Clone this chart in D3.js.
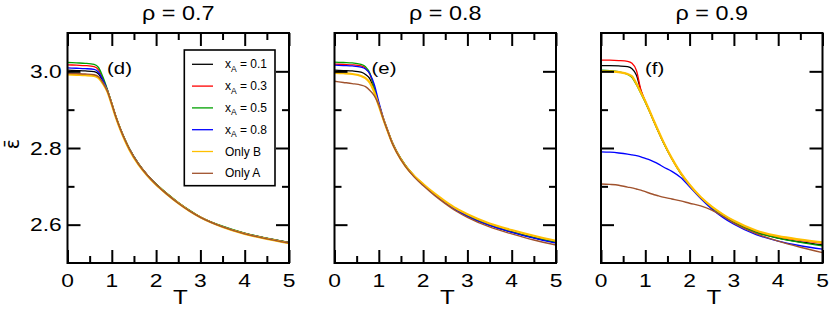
<!DOCTYPE html>
<html><head><meta charset="utf-8">
<script src="https://cdn.jsdelivr.net/npm/d3@7"></script>
<style>
body{margin:0;background:#fff}
svg{display:block}
text{font-family:"Liberation Sans",Arial,Helvetica,sans-serif;fill:#000}
</style>
</head><body>
<svg id="c" width="830" height="309"></svg>
<script>
// ---------------- DATA ----------------
const T = [0,0.2,0.4,0.6,0.7,0.8,0.9,1.0,1.1,1.2,1.3,1.4,1.6,1.8,2.0,2.25,2.5,2.75,3.0,3.5,4.0,4.5,5.0];

const panelTitles = ["ρ = 0.7","ρ = 0.8","ρ = 0.9"];
const panelTags = ["(d)","(e)","(f)"];
const seriesKeys = ["x01","x03","x05","x08","onlyB","onlyA"];
const seriesLabels = ["0.1","0.3","0.5","0.8","Only B","Only A"];
const xTicks = [0,1,2,3,4,5];
const xMinor = [0.5,1.5,2.5,3.5,4.5];
const yTicks = [2.6,2.8,3.0];
const yMinor = [2.7,2.9];

// rho = 0.7  (panel d)
const d_x01   = [3.003,3.002,3.001,2.999,2.993,2.974,2.950,2.915,2.879,2.848,2.821,2.797,2.759,2.730,2.706,2.680,2.657,2.637,2.620,2.595,2.577,2.564,2.554];
const d_x03   = [3.017,3.016,3.015,3.012,3.004,2.980,2.951,2.916,2.879,2.848,2.821,2.797,2.759,2.730,2.705,2.680,2.657,2.637,2.620,2.595,2.577,2.564,2.553];
const d_x05   = [3.023,3.022,3.021,3.018,3.010,2.985,2.953,2.917,2.880,2.849,2.822,2.798,2.760,2.730,2.706,2.681,2.658,2.638,2.620,2.596,2.578,2.565,2.554];
const d_x08   = [3.009,3.008,3.007,3.005,2.998,2.977,2.951,2.916,2.879,2.848,2.821,2.797,2.759,2.729,2.705,2.680,2.657,2.637,2.619,2.595,2.577,2.564,2.553];
const d_onlyB = [2.992,2.991,2.990,2.988,2.983,2.968,2.947,2.913,2.877,2.846,2.819,2.795,2.757,2.728,2.704,2.679,2.656,2.636,2.619,2.594,2.576,2.563,2.552];
const d_onlyA = [2.995,2.994,2.993,2.991,2.986,2.970,2.948,2.914,2.878,2.847,2.820,2.796,2.758,2.729,2.705,2.679,2.656,2.636,2.619,2.594,2.576,2.563,2.552];

// rho = 0.8  (panel e)
const e_x01   = [3.003,3.002,3.001,2.998,2.992,2.980,2.950,2.913,2.877,2.845,2.815,2.791,2.754,2.727,2.705,2.680,2.658,2.639,2.623,2.599,2.581,2.566,2.553];
const e_x03   = [3.019,3.018,3.017,3.014,3.008,2.992,2.955,2.915,2.878,2.845,2.815,2.791,2.754,2.727,2.705,2.680,2.658,2.639,2.623,2.599,2.581,2.566,2.554];
const e_x05   = [3.024,3.023,3.022,3.018,3.012,2.995,2.955,2.915,2.878,2.846,2.816,2.792,2.755,2.727,2.705,2.680,2.658,2.639,2.623,2.599,2.581,2.566,2.554];
const e_x08   = [3.016,3.015,3.014,3.011,3.006,2.993,2.965,2.920,2.880,2.847,2.816,2.792,2.754,2.727,2.705,2.680,2.657,2.638,2.622,2.598,2.580,2.565,2.552];
const e_onlyB = [2.996,2.995,2.993,2.988,2.982,2.970,2.945,2.910,2.876,2.844,2.814,2.790,2.753,2.727,2.706,2.682,2.661,2.642,2.627,2.603,2.586,2.571,2.558];
const e_onlyA = [2.974,2.971,2.968,2.964,2.960,2.950,2.936,2.912,2.876,2.844,2.813,2.789,2.752,2.724,2.702,2.677,2.655,2.635,2.619,2.594,2.576,2.560,2.547];

// rho = 0.9  (panel f)
const f_x01   = [3.015,3.015,3.014,3.012,3.007,2.990,2.950,2.921,2.895,2.868,2.842,2.817,2.772,2.734,2.703,2.670,2.645,2.624,2.606,2.580,2.565,2.555,2.547];
const f_x03   = [3.029,3.029,3.028,3.026,3.021,3.002,2.952,2.922,2.895,2.868,2.842,2.817,2.772,2.734,2.703,2.671,2.646,2.626,2.608,2.583,2.568,2.559,2.552];
const f_x05   = [3.003,3.002,2.999,2.992,2.984,2.965,2.942,2.919,2.894,2.867,2.841,2.816,2.772,2.734,2.703,2.670,2.645,2.624,2.606,2.580,2.565,2.554,2.545];
const f_x08   = [2.790,2.789,2.787,2.784,2.782,2.780,2.777,2.773,2.769,2.764,2.758,2.751,2.739,2.723,2.699,2.668,2.641,2.619,2.601,2.574,2.557,2.545,2.536];
const f_onlyB = [3.000,3.000,2.998,2.993,2.987,2.968,2.945,2.922,2.896,2.869,2.843,2.818,2.773,2.735,2.704,2.672,2.647,2.627,2.610,2.585,2.570,2.561,2.554];
const f_onlyA = [2.706,2.705,2.703,2.698,2.696,2.693,2.690,2.686,2.682,2.678,2.675,2.672,2.667,2.662,2.656,2.649,2.638,2.622,2.604,2.577,2.557,2.541,2.527];

const panels = [
  {x01:d_x01,x03:d_x03,x05:d_x05,x08:d_x08,onlyB:d_onlyB,onlyA:d_onlyA},
  {x01:e_x01,x03:e_x03,x05:e_x05,x08:e_x08,onlyB:e_onlyB,onlyA:e_onlyA},
  {x01:f_x01,x03:f_x03,x05:f_x05,x08:f_x08,onlyB:f_onlyB,onlyA:f_onlyA}
];

// ---------------- STYLE / LAYOUT ----------------
const colors = {x01:"#000000",x03:"#ff0000",x05:"#00a000",x08:"#0000ff",onlyB:"#ffbf00",onlyA:"#a0522d"};
const widths = {x01:1.3,x03:1.3,x05:1.3,x08:1.3,onlyB:2.2,onlyA:1.4};
const drawOrder = ["x01","x03","x05","x08","onlyB","onlyA"];
const lefts = [67.5,334.5,601];
const W = 221.5, yTop = 33, yBottom = 263;
const tagDx = [39.5,37,44];

const svg = d3.select("#c");
const y = d3.scaleLinear().domain([2.5,3.1]).range([yBottom,yTop]);

lefts.forEach((L,i)=>{
  const x = d3.scaleLinear().domain([0,5]).range([L,L+W]);
  const g = svg.append("g");
  const data = panels[i];

  // curves
  const line = d3.line().x((d,k)=>x(T[k])).y(d=>y(d)).curve(d3.curveMonotoneX);
  drawOrder.forEach(key=>{
    g.append("path").attr("d",line(data[key]))
      .attr("fill","none").attr("stroke",colors[key])
      .attr("stroke-width",widths[key]).attr("stroke-linejoin","round");
  });

  // ticks (inward, all four sides)
  const axes = [
    [d3.axisBottom(x).tickValues(xTicks).tickSize(-13), `translate(0,${yBottom})`],
    [d3.axisBottom(x).tickValues(xMinor).tickSize(-7), `translate(0,${yBottom})`],
    [d3.axisTop(x).tickValues(xTicks).tickSize(-13), `translate(0,${yTop})`],
    [d3.axisTop(x).tickValues(xMinor).tickSize(-7), `translate(0,${yTop})`],
    [d3.axisLeft(y).tickValues(yTicks).tickSize(-13), `translate(${L},0)`],
    [d3.axisLeft(y).tickValues(yMinor).tickSize(-7), `translate(${L},0)`],
    [d3.axisRight(y).tickValues(yTicks).tickSize(-13), `translate(${L+W},0)`],
    [d3.axisRight(y).tickValues(yMinor).tickSize(-7), `translate(${L+W},0)`]
  ];
  axes.forEach(([ax,tr])=>{
    const a = g.append("g").attr("transform",tr).call(ax.tickFormat(""));
    a.select(".domain").remove();
    a.selectAll("line").attr("stroke","#000").attr("stroke-width",2);
    a.selectAll("text").remove();
  });

  // frame
  g.append("rect").attr("x",L).attr("y",yTop).attr("width",W).attr("height",yBottom-yTop)
    .attr("fill","none").attr("stroke","#000").attr("stroke-width",2);

  // x tick labels
  xTicks.forEach(v=>{
    g.append("text").attr("transform",`translate(${x(v)},287) scale(1.2,1)`)
      .attr("text-anchor","middle").attr("font-size",19).text(d3.format("d")(v));
  });
  // x axis title
  g.append("text").attr("transform",`translate(${L+W/2+2},304) scale(1.15,1)`)
    .attr("text-anchor","middle").attr("font-size",21).text("T");
  // panel title
  g.append("text").attr("transform",`translate(${L+W/2},20) scale(1.17,1)`)
    .attr("text-anchor","middle").attr("font-size",20).text(panelTitles[i]);
  // tag
  g.append("text").attr("transform",`translate(${L+tagDx[i]},74) scale(1.2,1)`)
    .attr("font-size",17).text(panelTags[i]);

  if(i===0){
    yTicks.forEach(v=>{
      g.append("text").attr("transform",`translate(61.7,${y(v)+6.8}) scale(1.2,1)`)
        .attr("text-anchor","end").attr("font-size",19).text(d3.format(".1f")(v));
    });
    g.append("text").attr("transform","translate(19,144) rotate(-90)")
      .attr("text-anchor","middle").attr("font-size",19)
      .style("font-family","'DejaVu Sans',sans-serif").text("ε\u0304");

    // legend
    const lg = g.append("g");
    lg.append("rect").attr("x",184.3).attr("y",50).attr("width",90.7).attr("height",135.7)
      .attr("fill","#fff").attr("stroke","#000").attr("stroke-width",1.6);
    seriesKeys.forEach((key,k)=>{
      const ly = 64.3 + k*21.8;
      lg.append("line").attr("x1",192).attr("x2",213).attr("y1",ly).attr("y2",ly)
        .attr("stroke",colors[key]).attr("stroke-width",1.3);
      const t = lg.append("text").attr("x",225).attr("y",ly+4).attr("font-size",12);
      if(k<4){
        t.append("tspan").text("x");
        t.append("tspan").attr("font-size",8.5).attr("dy",3.5).text("A");
        t.append("tspan").attr("dy",-3.5).text(" = "+seriesLabels[k]);
      } else {
        t.text(seriesLabels[k]);
      }
    });
  }
});
</script>
</body></html>
